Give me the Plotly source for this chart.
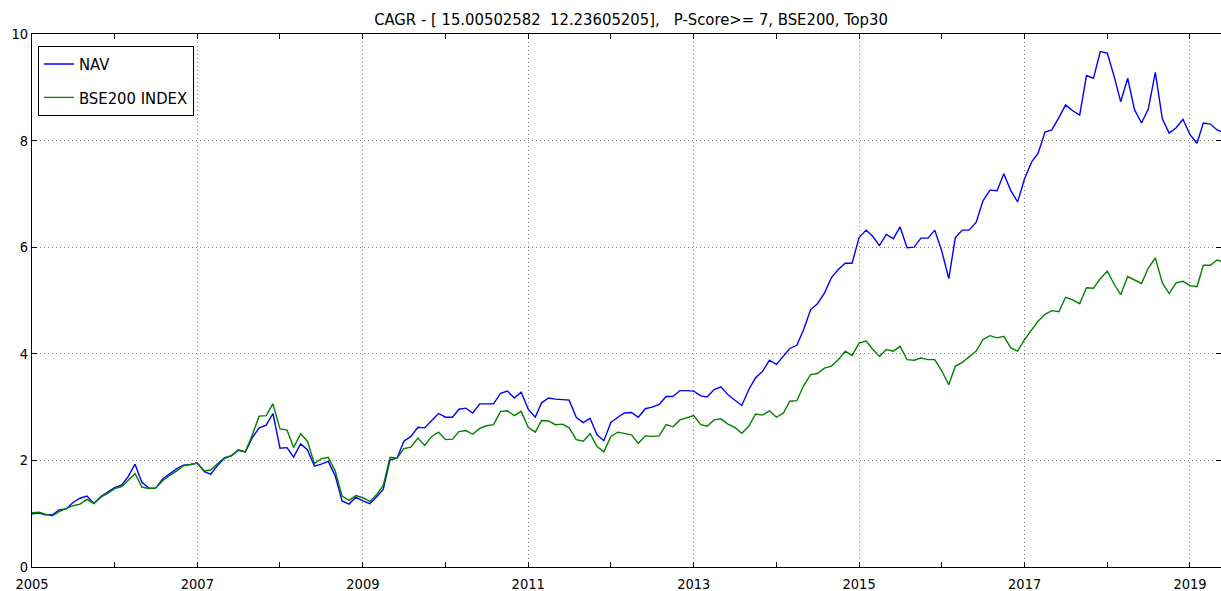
import pandas as pd
import plotly.graph_objects as go

nav = [1.00, 1.01, 0.98, 0.98, 1.07, 1.09, 1.21, 1.29, 1.33, 1.19, 1.32, 1.41,
       1.49, 1.54, 1.69, 1.93, 1.59, 1.48, 1.48, 1.65, 1.74, 1.84, 1.91, 1.92,
       1.95, 1.79, 1.74, 1.91, 2.04, 2.09, 2.19, 2.16, 2.43, 2.61, 2.66, 2.88,
       2.23, 2.24, 2.06, 2.31, 2.20, 1.89, 1.93, 1.98, 1.71, 1.24, 1.18, 1.31,
       1.24, 1.19, 1.31, 1.46, 2.01, 2.04, 2.36, 2.45, 2.62, 2.61, 2.75, 2.88,
       2.81, 2.81, 2.96, 2.98, 2.89, 3.06, 3.06, 3.06, 3.26, 3.30, 3.17, 3.28,
       2.96, 2.81, 3.08, 3.17, 3.15, 3.14, 3.13, 2.81, 2.71, 2.79, 2.48, 2.37,
       2.71, 2.81, 2.89, 2.90, 2.81, 2.97, 3.00, 3.05, 3.20, 3.20, 3.31, 3.31,
       3.30, 3.21, 3.19, 3.33, 3.38, 3.23, 3.14, 3.03, 3.33, 3.55, 3.67, 3.88,
       3.80, 3.95, 4.10, 4.16, 4.45, 4.83, 4.94, 5.14, 5.43, 5.58, 5.70, 5.70,
       6.18, 6.32, 6.21, 6.03, 6.24, 6.16, 6.38, 5.99, 6.00, 6.17, 6.17, 6.32,
       5.93, 5.41, 6.18, 6.32, 6.32, 6.47, 6.87, 7.07, 7.06, 7.38, 7.06, 6.85,
       7.29, 7.60, 7.76, 8.16, 8.20, 8.43, 8.67, 8.56, 8.48, 9.22, 9.17, 9.67,
       9.64, 9.19, 8.73, 9.17, 8.58, 8.33, 8.59, 9.28, 8.41, 8.14, 8.24, 8.40,
       8.11, 7.95, 8.33, 8.31, 8.20, 8.15]

bse200 = [1.02, 1.03, 0.99, 0.96, 1.04, 1.09, 1.15, 1.18, 1.27, 1.19, 1.31, 1.38,
          1.47, 1.51, 1.63, 1.75, 1.50, 1.47, 1.48, 1.62, 1.72, 1.80, 1.90, 1.92,
          1.95, 1.80, 1.82, 1.94, 2.05, 2.09, 2.20, 2.16, 2.48, 2.83, 2.84, 3.06,
          2.59, 2.57, 2.24, 2.50, 2.36, 1.94, 2.03, 2.06, 1.80, 1.33, 1.25, 1.34,
          1.30, 1.23, 1.35, 1.53, 2.06, 2.04, 2.22, 2.25, 2.42, 2.28, 2.45, 2.53,
          2.39, 2.40, 2.54, 2.56, 2.49, 2.60, 2.65, 2.67, 2.92, 2.93, 2.84, 2.92,
          2.62, 2.53, 2.75, 2.74, 2.67, 2.68, 2.61, 2.39, 2.36, 2.50, 2.26, 2.16,
          2.45, 2.53, 2.51, 2.48, 2.32, 2.46, 2.45, 2.46, 2.67, 2.63, 2.76, 2.80,
          2.84, 2.67, 2.64, 2.76, 2.78, 2.68, 2.62, 2.51, 2.64, 2.87, 2.85, 2.93,
          2.81, 2.89, 3.11, 3.12, 3.40, 3.61, 3.63, 3.73, 3.77, 3.89, 4.05, 3.97,
          4.20, 4.24, 4.09, 3.95, 4.08, 4.05, 4.14, 3.89, 3.88, 3.92, 3.89, 3.89,
          3.68, 3.42, 3.77, 3.84, 3.95, 4.05, 4.27, 4.34, 4.30, 4.33, 4.11, 4.05,
          4.27, 4.45, 4.61, 4.74, 4.81, 4.79, 5.06, 5.01, 4.94, 5.24, 5.23, 5.41,
          5.55, 5.30, 5.11, 5.45, 5.38, 5.32, 5.61, 5.80, 5.33, 5.13, 5.33, 5.36,
          5.28, 5.26, 5.66, 5.66, 5.76, 5.72]

dates = pd.date_range("2005-01-01", periods=len(nav), freq="MS")

y_ticks = [0, 2, 4, 6, 8, 10]
title_text = ("CAGR - [ 15.00502582\u00a0 12.23605205],\u00a0\u00a0 "
              "P-Score>= 7, BSE200, Top30")

FONT = "DejaVu Sans Condensed, DejaVu Sans, sans-serif"
GRID = dict(showgrid=True, gridcolor="rgba(0,0,0,0.5)", gridwidth=1,
            griddash="1px,3px")

fig = go.Figure()
fig.add_trace(go.Scatter(x=dates, y=nav, mode="lines", name="NAV",
                         legendgroup="a",
                         line=dict(color="#0000ff", width=1.4)))
fig.add_trace(go.Scatter(x=dates, y=bse200, mode="lines", name="BSE200 INDEX",
                         legendgroup="b",
                         line=dict(color="#008000", width=1.4)))

W, H = 1221, 591
L, R, T, B = 32, 0, 34, 24

fig.update_layout(
    width=W, height=H,
    margin=dict(l=L, r=R, t=T, b=B, autoexpand=False),
    paper_bgcolor="white", plot_bgcolor="white",
    font=dict(family=FONT, size=14, color="black"),
    title=dict(text=title_text, x=(631 - L) / (W - L - R), xref="paper",
               xanchor="center", y=1 - 19 / H, yref="container",
               yanchor="middle", font=dict(family=FONT, size=16.5, color="black")),
    showlegend=True,
    legend=dict(x=0.005, y=0.978, xanchor="left", yanchor="top",
                bordercolor="black", borderwidth=1, bgcolor="white",
                font=dict(family=FONT, size=16.5, color="black"),
                traceorder="grouped", tracegroupgap=9, itemwidth=30),
    xaxis=dict(
        type="date", automargin=False,
        range=["2005-01-01", "2019-05-18"],
        tick0="2005-01-01", dtick="M24", tickformat="%Y",
        ticks="inside", ticklen=5, tickcolor="black",
        ticklabelstandoff=4,
        showline=True, linecolor="black", linewidth=1, mirror="allticks",
        zeroline=False,
        minor=dict(dtick="M12", tick0="2005-01-01", ticks="inside", ticklen=5,
                   tickcolor="black", showgrid=False),
        tickfont=dict(family=FONT, size=14.5, color="black"),
        **GRID,
    ),
    yaxis=dict(
        range=[0, 10], tickvals=y_ticks, automargin=False,
        ticks="inside", ticklen=5, tickcolor="black",
        showline=True, linecolor="black", linewidth=1, mirror="allticks",
        zeroline=False,
        tickfont=dict(family=FONT, size=14.5, color="black"),
        **GRID,
    ),
)

fig.write_html(
    "out.html",
    config={"displayModeBar": False},
    post_script="document.body.style.margin='0';document.body.style.overflow='hidden';",
)
